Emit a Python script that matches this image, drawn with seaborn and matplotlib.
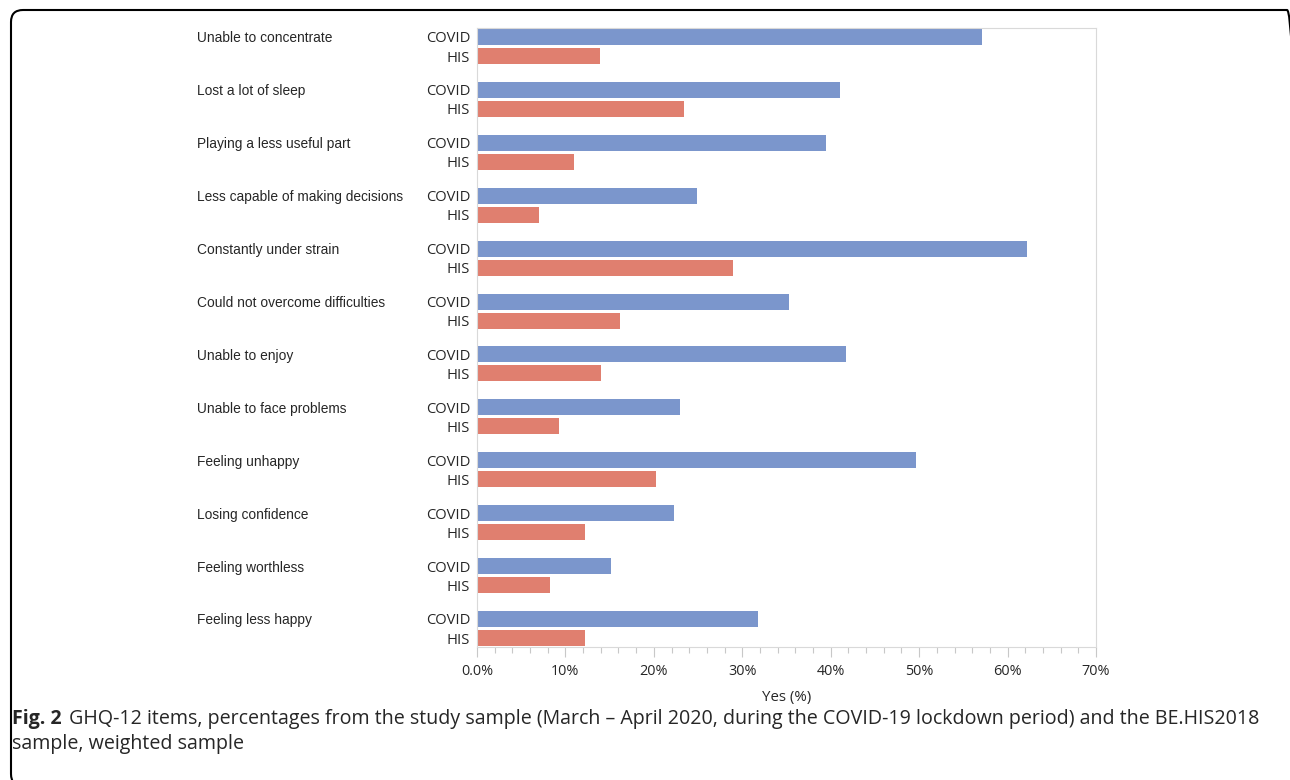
import pandas as pd
import matplotlib.pyplot as plt
import seaborn as sns
from matplotlib.patches import FancyBboxPatch
from matplotlib.ticker import MultipleLocator, FuncFormatter
import matplotlib.transforms as mtransforms

items = ['Unable to concentrate', 'Lost a lot of sleep', 'Playing a less useful part',
         'Less capable of making decisions', 'Constantly under strain',
         'Could not overcome difficulties', 'Unable to enjoy', 'Unable to face problems',
         'Feeling unhappy', 'Losing confidence', 'Feeling worthless', 'Feeling less happy']
covid = [57.1, 41.0, 39.5, 24.9, 62.2, 35.3, 41.7, 22.9, 49.6, 22.3, 15.1, 31.8]
his = [13.9, 23.4, 11.0, 7.0, 28.9, 16.2, 14.0, 9.3, 20.2, 12.2, 8.3, 12.2]
samples = ['COVID', 'HIS']
colors = ['#7b96cc', '#e07f6f']

data = pd.DataFrame({
    'item': items * 2,
    'yes': covid + his,
    'sample': ['COVID'] * len(items) + ['HIS'] * len(items),
})

sns.set_style('white')
fig = plt.figure(figsize=(12.9, 7.8), dpi=100)
ax = fig.add_axes([477 / 1290, 1 - 647 / 780, 619 / 1290, 619 / 780])

sns.barplot(data=data, x='yes', y='item', hue='sample', hue_order=samples,
            palette=colors, saturation=1, width=0.72, gap=0.16, orient='h',
            linewidth=0, legend=False, ax=ax)

ax.set_xlim(0, 70)
ax.set_ylim(len(items) - 0.65, -0.35)

# COVID / HIS tick labels for each bar
ticks, labels = [], []
for i in range(len(items)):
    ticks += [i - 0.18, i + 0.18]
    labels += samples
ax.set_yticks(ticks)
ax.set_yticklabels(labels, fontsize=10.6, family='Open Sans')
ax.tick_params(axis='y', length=0, pad=5)

ax.xaxis.set_major_locator(MultipleLocator(10))
ax.xaxis.set_minor_locator(MultipleLocator(2))
ax.xaxis.set_major_formatter(FuncFormatter(lambda v, p: '0.0%' if v == 0 else f'{v:.0f}%'))
ax.tick_params(axis='x', which='major', bottom=True, length=7, width=0.8,
               color='#c8c8c8', labelsize=10.4, pad=5)
ax.tick_params(axis='x', which='minor', bottom=True, length=4, width=0.8, color='#c8c8c8')
for lab in ax.get_xticklabels():
    lab.set_family('Open Sans')

for s in ax.spines.values():
    s.set_color('#d9d9d9')
    s.set_linewidth(0.8)

ax.set_xlabel('Yes (%)', fontsize=10.8, family='Open Sans', labelpad=8)
ax.set_ylabel('')

# item names on the left
trans = mtransforms.blended_transform_factory(fig.transFigure, ax.transData)
for i, name in enumerate(items):
    ax.text(197 / 1290, i - 0.18, name, transform=trans, ha='left', va='center_baseline',
            fontsize=9.9, family='Liberation Sans')

# caption
cap_size = 14.1
fig_lab = fig.text(12 / 1290, 1 - 719 / 780, 'Fig. 2', fontsize=cap_size, fontweight='bold',
                   va='center', ha='left', family='Open Sans')
renderer = fig.canvas.get_renderer()
bb = fig_lab.get_window_extent(renderer)
fig.text((bb.x1 + 7) / 1290, 1 - 719 / 780,
         'GHQ-12 items, percentages from the study sample (March \u2013 April 2020, '
         'during the COVID-19 lockdown period) and the BE.HIS2018',
         fontsize=cap_size, va='center', ha='left', family='Open Sans')
fig.text(12 / 1290, 1 - 744 / 780, 'sample, weighted sample', fontsize=cap_size,
         va='center', ha='left', family='Open Sans')

# rounded frame
frame = FancyBboxPatch((11, -6), 1288, 776, boxstyle='round,pad=0,rounding_size=12',
                       transform=mtransforms.IdentityTransform(), fill=False,
                       edgecolor='black', linewidth=1.5)
fig.add_artist(frame)

fig.savefig('out.png', dpi=100)
